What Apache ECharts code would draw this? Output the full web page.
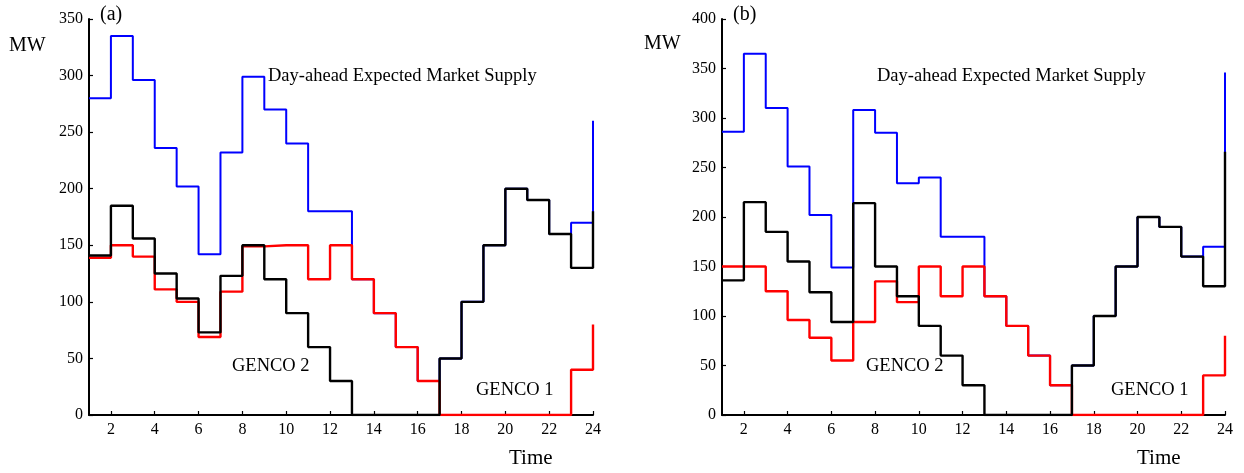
<!DOCTYPE html>
<html>
<head>
<meta charset="utf-8">
<script src="https://cdn.jsdelivr.net/npm/echarts@6/dist/echarts.min.js"></script>
<style>
  html, body { margin: 0; padding: 0; background: #fff; }
  #chart { width: 1244px; height: 473px; }
</style>
</head>
<body>
<div id="chart"></div>
<script>
// Hours of the day
const hours = [1,2,3,4,5,6,7,8,9,10,11,12,13,14,15,16,17,18,19,20,21,22,23,24];
const hourTicks = [2,4,6,8,10,12,14,16,18,20,22,24];

// Case (a)
const supplyA = [280,335,296,236,202,142,232,299,270,240,180,180,120,90,60,30,50,100,150,200,190,160,170,260];
const genco1A = [139,150,140,111,100,69,109,149,150,150,120,150,120,90,60,30,0,0,0,0,0,0,40,80];
const genco2A = [141,185,156,125,103,73,123,150,120,90,60,30,0,0,0,0,50,100,150,200,190,160,130,180];

// Case (b)
const supplyB = [286,365,310,251,202,149,308,285,234,240,180,180,120,90,60,30,50,100,150,200,190,160,170,346];
const genco1B = [150,150,125,96,78,55,94,135,114,150,120,150,120,90,60,30,0,0,0,0,0,0,40,80];
const genco2B = [136,215,185,155,124,94,214,150,120,90,60,30,0,0,0,0,50,100,150,200,190,160,130,266];

const yMaxA = 350, yMaxB = 400, yStep = 50;

const FONT = '"Liberation Serif", "Times New Roman", serif';

function pairs(vals) { return hours.map((h, i) => [h, vals[i]]); }

function xAxis(gridIndex) {
  return {
    type: 'value', gridIndex, min: 1, max: 24,
    axisLine: { show: true, lineStyle: { color: '#000', width: 2 } },
    axisTick: { show: true, inside: true, length: 4, lineStyle: { color: '#000', width: 1.2 }, customValues: hourTicks },
    axisLabel: { color: '#000', fontFamily: FONT, fontSize: 16, margin: 7, customValues: hourTicks },
    splitLine: { show: false }
  };
}
function yAxis(gridIndex, max) {
  return {
    type: 'value', gridIndex, min: 0, max, interval: yStep,
    axisLine: { show: true, lineStyle: { color: '#000', width: 2 } },
    axisTick: { show: true, inside: true, length: 4, lineStyle: { color: '#000', width: 1.2 } },
    axisLabel: { color: '#000', fontFamily: FONT, fontSize: 16, margin: 6 },
    splitLine: { show: false }
  };
}
function stepLine(name, vals, color, width, idx, z) {
  return {
    name, type: 'line', step: 'end', xAxisIndex: idx, yAxisIndex: idx,
    data: pairs(vals), symbol: 'none', z,
    lineStyle: { color, width }, animation: false
  };
}
function txt(x, y, text, size) {
  return { type: 'text', left: x, top: y, style: { text, fill: '#000', font: size + 'px ' + FONT } };
}

const chart = echarts.init(document.getElementById('chart'), null, { renderer: 'canvas' });
chart.setOption({
  animation: false,
  backgroundColor: '#fff',
  grid: [
    { left: 89, right: 651, top: 19, bottom: 58 },
    { left: 722, right: 19, top: 19, bottom: 58 }
  ],
  xAxis: [xAxis(0), xAxis(1)],
  yAxis: [yAxis(0, yMaxA), yAxis(1, yMaxB)],
  series: [
    stepLine('Day-ahead Expected Market Supply', supplyA, '#0000ff', 2, 0, 2),
    stepLine('GENCO 1', genco1A, '#ff0000', 2.4, 0, 3),
    stepLine('GENCO 2', genco2A, '#000000', 2.4, 0, 4),
    stepLine('Day-ahead Expected Market Supply', supplyB, '#0000ff', 2, 1, 2),
    stepLine('GENCO 1', genco1B, '#ff0000', 2.4, 1, 3),
    stepLine('GENCO 2', genco2B, '#000000', 2.4, 1, 4)
  ],
  graphic: [
    txt(100, 5, '(a)', 20),
    txt(9, 36, 'MW', 20),
    txt(268, 67, 'Day-ahead Expected Market Supply', 18.5),
    txt(232, 357, 'GENCO 2', 18.5),
    txt(476, 381, 'GENCO 1', 18.5),
    txt(509, 448, 'Time', 21),
    txt(733, 5, '(b)', 20),
    txt(644, 34, 'MW', 20),
    txt(877, 67, 'Day-ahead Expected Market Supply', 18.5),
    txt(866, 357, 'GENCO 2', 18.5),
    txt(1111, 381, 'GENCO 1', 18.5),
    txt(1137, 448, 'Time', 21)
  ]
});
</script>
</body>
</html>
